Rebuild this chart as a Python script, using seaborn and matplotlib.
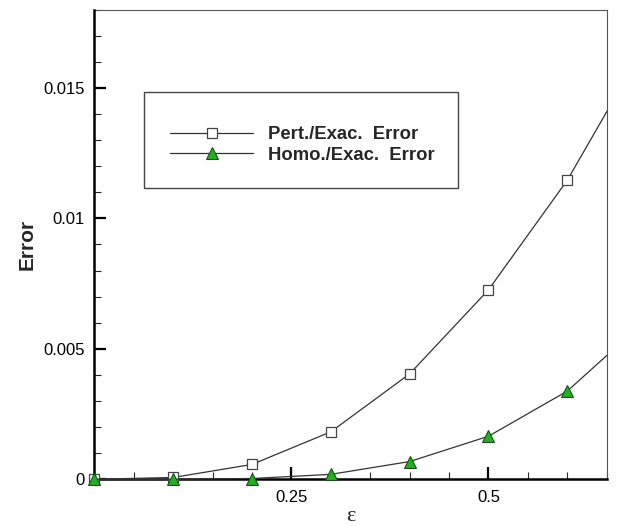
import matplotlib
matplotlib.use('Agg')
import matplotlib.pyplot as plt
import seaborn as sns
import pandas as pd
from matplotlib.ticker import MultipleLocator, FixedLocator, FuncFormatter
from matplotlib.patches import Rectangle

# ---- data ----
eps = [0.0, 0.1, 0.2, 0.3, 0.4, 0.5, 0.6, 0.7]
pert_err = [0.0, 0.00007, 0.00057, 0.00182, 0.00404, 0.00726, 0.01146, 0.0167]
homo_err = [0.0, 0.0, 0.00003, 0.00019, 0.00068, 0.00165, 0.00338, 0.0061]
series_labels = ['Pert./Exac.  Error', 'Homo./Exac.  Error']
x_major_ticks = [0.25, 0.5]
y_major_ticks = [0.0, 0.005, 0.01, 0.015]
n_marked = 7  # points 0 ... 0.6 carry markers; the last one only continues the curve

sns.set_style('ticks')
plt.rcParams['font.family'] = ['Liberation Sans', 'DejaVu Sans']

fig = plt.figure(figsize=(6.19, 5.26), dpi=100)
L, R, T, B = 94.4, 606.7, 9.5, 479.3
W, H = 619, 526
ax = fig.add_axes([L / W, 1 - B / H, (R - L) / W, (B - T) / H])

df_p = pd.DataFrame({'eps': eps, 'err': pert_err})
df_h = pd.DataFrame({'eps': eps, 'err': homo_err})

line_kw = dict(color='#333333', linewidth=0.9)
p_kw = dict(marker='s', markersize=6.5, markerfacecolor='white',
            markeredgecolor='#444444', markeredgewidth=0.9)
h_kw = dict(marker='^', markersize=8, markerfacecolor='#22b022',
            markeredgecolor='#1d4d1d', markeredgewidth=0.8)

# marked part (markers not clipped at the axes edges)
sns.lineplot(data=df_p.iloc[:n_marked], x='eps', y='err', ax=ax, **line_kw, **p_kw,
             label=series_labels[0], zorder=4, clip_on=False)
sns.lineplot(data=df_h.iloc[:n_marked], x='eps', y='err', ax=ax, **line_kw, **h_kw,
             label=series_labels[1], zorder=4, clip_on=False)
# continuation beyond the last marker, clipped at the right edge
sns.lineplot(data=df_p.iloc[n_marked - 1:], x='eps', y='err', ax=ax, **line_kw,
             legend=False, zorder=3)
sns.lineplot(data=df_h.iloc[n_marked - 1:], x='eps', y='err', ax=ax, **line_kw,
             legend=False, zorder=3)

ax.set_xlim(0, 0.65)
ax.set_ylim(0, 0.018)

ax.xaxis.set_major_locator(FixedLocator(x_major_ticks))
ax.xaxis.set_minor_locator(MultipleLocator(0.05))
ax.yaxis.set_major_locator(FixedLocator(y_major_ticks))
ax.yaxis.set_minor_locator(MultipleLocator(0.001))
ax.xaxis.set_major_formatter(FuncFormatter(lambda v, p: '%g' % v))
ax.yaxis.set_major_formatter(FuncFormatter(lambda v, p: '%g' % v))

ax.tick_params(which='major', direction='in', length=8.5, width=1.6,
               top=False, right=False, labelsize=12, colors='black', pad=7)
ax.tick_params(which='minor', direction='in', length=5, width=0.8,
               top=False, right=False)
ax.tick_params(axis='x', which='major', pad=8)

for s in ['left', 'bottom']:
    ax.spines[s].set_linewidth(1.8)
    ax.spines[s].set_color('black')
    ax.spines[s].set_zorder(3.5)
for s in ['top', 'right']:
    ax.spines[s].set_linewidth(0.8)
    ax.spines[s].set_color('#555555')
    ax.spines[s].set_visible(True)

ax.set_ylabel('Error', fontsize=15, fontweight='bold')
ax.yaxis.set_label_coords(-0.112, 0.5)
ax.set_xlabel('ε', fontsize=16, family=['Liberation Serif', 'DejaVu Serif'], labelpad=1.5)

leg = ax.legend(loc='center left', bbox_to_anchor=(170 / W, 1 - 145 / H),
                bbox_transform=fig.transFigure, frameon=False,
                prop={'weight': 'bold', 'size': 13.3}, handlelength=4.5,
                handletextpad=0.8, labelspacing=0.2, borderpad=0,
                borderaxespad=0)

fig.patches.append(Rectangle((144 / W, 1 - 188 / H), (458 - 144) / W, (188 - 92) / H,
                             transform=fig.transFigure, fill=False,
                             edgecolor='#444444', linewidth=1.0, zorder=5))

fig.savefig('out.png', dpi=100)
